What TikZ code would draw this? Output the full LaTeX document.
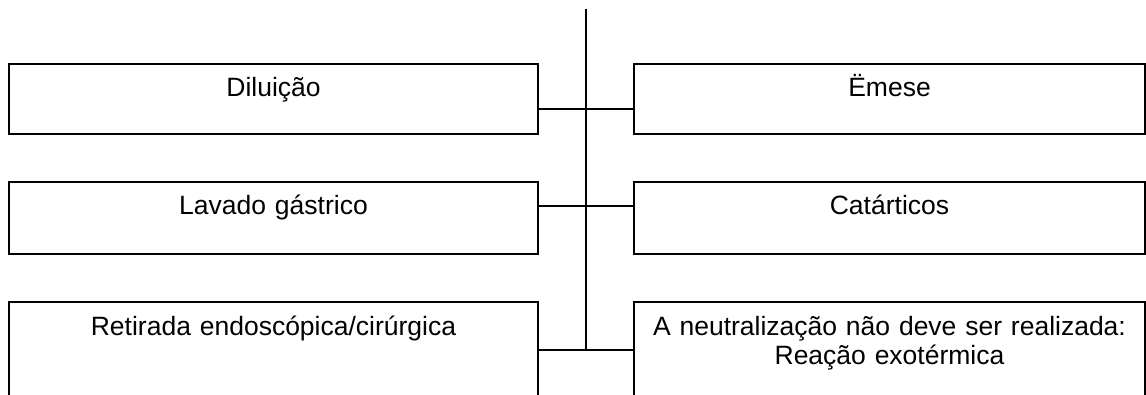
\documentclass[tikz,border=0pt]{standalone}
\usepackage{fontspec}
\setmainfont{Liberation Sans}
\usetikzlibrary{positioning}

\begin{document}
\begin{tikzpicture}[x=1pt, y=1pt, node distance=48pt and 96pt,
    caixa/.style={draw, line width=1.5pt, outer sep=0pt, inner sep=0pt, align=center,
      text height=33pt, font=\fontsize{26.5}{29}\selectfont},
    esq/.style={caixa, text width=529pt},
    dir/.style={caixa, text width=511pt},
    liga/.style={line width=1.5pt}]
  \useasboundingbox (0,0) rectangle (1146,-395);
  \clip (0,0) rectangle (1146,-395);
  % coluna da esquerda
  \node[esq, text depth=37pt, anchor=north west] (dil) at (9,-64) {Diluição};
  \node[esq, text depth=39pt, below=of dil] (lav) {Lavado gástrico};
  \node[esq, text depth=90pt, below=of lav] (ret) {Retirada endoscópica/cirúrgica};
  % coluna da direita
  \node[dir, text depth=37pt, right=of dil] (eme) {Ëmese};
  \node[dir, text depth=39pt, right=of lav] (cat) {Catárticos};
  \node[dir, text depth=90pt, right=of ret] (neu) {A neutralização não deve ser realizada:\\ Reação exotérmica};
  % eixo central
  \coordinate (topo) at (586,-9);
  \coordinate (j1) at (586,-109);
  \coordinate (j2) at (586,-206);
  \coordinate (j3) at (586,-350);
  \draw[liga] (topo) -- (j3);
  \draw[liga] (dil.east |- j1) -- (eme.west |- j1);
  \draw[liga] (lav.east |- j2) -- (cat.west |- j2);
  \draw[liga] (ret.east |- j3) -- (neu.west |- j3);
\end{tikzpicture}
\end{document}
